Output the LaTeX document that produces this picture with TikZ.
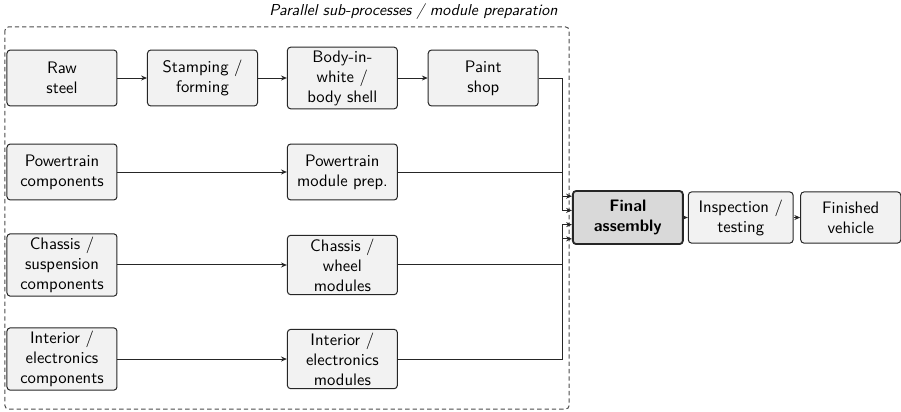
\documentclass[tikz,border=0pt]{standalone}
\usepackage{fontspec}
\usepackage{tikz}
\usetikzlibrary{arrows.meta}
\renewcommand{\familydefault}{\sfdefault}
\tikzstyle{proc} = [draw=black!85, line width=0.6pt, rounded corners=2pt, fill=black!5, align=center, minimum width=2.32cm, minimum height=1.18cm, inner sep=2pt]
\tikzstyle{mainproc} = [proc, line width=1.1pt, fill=black!15, font=\bfseries, minimum height=1.12cm]
\tikzstyle{endproc} = [proc, minimum height=1.08cm]
\tikzstyle{arrow} = [-{Stealth[length=3.5pt,width=3pt]}, line width=0.6pt, black!85]
\tikzstyle{frame} = [draw=black!70, line width=0.6pt, dash pattern=on 2.6pt off 1.8pt, rounded corners=2pt]

\begin{document}
\begin{tikzpicture}
						\useasboundingbox (0, 0) rectangle (19.0, -8.667);
						% sub-process frame
						\draw[frame] (0.105, -0.569) rectangle (12.0, -8.625);
						\node[anchor=east, font=\fontsize{9.5pt}{11pt}\selectfont\itshape](title) at (11.88, -0.25){Parallel sub-processes / module preparation};
						
						\node[proc](raw) at (1.307, -1.645){Raw\\steel};
						\node[proc](stamp) at (4.27, -1.645){Stamping /\\forming};
						\node[proc](biw) at (7.22, -1.645){Body-in-\\white /\\body shell};
						\node[proc](paint) at (10.19, -1.645){Paint\\shop};
						\node[proc](ptcomp) at (1.307, -3.627){Powertrain\\components};
						\node[proc](ptmod) at (7.22, -3.627){Powertrain\\module prep.};
						\node[proc](chcomp) at (1.307, -5.588){Chassis /\\suspension\\components};
						\node[proc](chmod) at (7.22, -5.588){Chassis /\\wheel\\modules};
						\node[proc](incomp) at (1.307, -7.571){Interior /\\electronics\\components};
						\node[proc](inmod) at (7.22, -7.571){Interior /\\electronics\\modules};
						
						\node[mainproc](final) at (13.24, -4.587){Final\\assembly};
						\node[endproc, minimum width=2.21cm](inspect) at (15.62, -4.587){Inspection /\\testing};
						\node[endproc, minimum width=2.11cm](vehicle) at (17.94, -4.587){Finished\\vehicle};
						\coordinate(bus) at (11.87, 0);
						
						\draw[arrow](raw) -- (stamp);
						\draw[arrow](stamp) -- (biw);
						\draw[arrow](biw) -- (paint);
						\draw[arrow](ptcomp) -- (ptmod);
						\draw[arrow](chcomp) -- (chmod);
						\draw[arrow](incomp) -- (inmod);
						
						\draw[arrow](paint.east) -- (paint.east -| bus) |- ([yshift=0.45cm]final.west);
						\draw[arrow](ptmod.east) -- (ptmod.east -| bus) |- ([yshift=0.15cm]final.west);
						\draw[arrow](chmod.east) -- (chmod.east -| bus) |- ([yshift=-0.15cm]final.west);
						\draw[arrow](inmod.east) -- (inmod.east -| bus) |- ([yshift=-0.45cm]final.west);
						
						\draw[arrow](final) -- (inspect);
						\draw[arrow](inspect) -- (vehicle);
					\end{tikzpicture}
\end{document}
